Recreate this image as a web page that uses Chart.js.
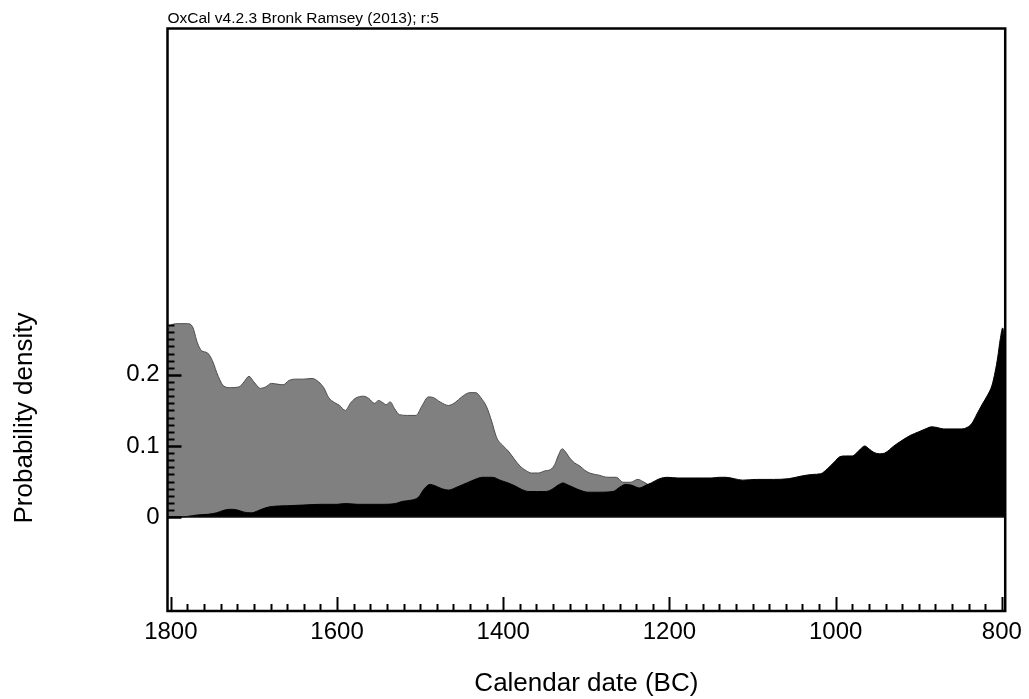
<!DOCTYPE html>
<html>
<head>
<meta charset="utf-8">
<title>Probability density – Calendar date (BC)</title>
<script src="https://cdn.jsdelivr.net/npm/chart.js@4/dist/chart.umd.min.js"></script>
<style>
  html, body { margin: 0; padding: 0; background: #ffffff; }
  #chart { display: block; }
</style>
</head>
<body>
<canvas id="chart" width="1029" height="699"></canvas>
<script>
// Calendar dates (BC) and probability densities of the grey distribution
const greyDates = [
  1804, 1800, 1790, 1780, 1774, 1768, 1763, 1756, 1750, 1743, 1736, 1728, 1718, 1712, 1706,
  1700, 1692, 1686, 1679, 1672, 1665, 1658, 1650, 1640, 1630, 1622, 1616, 1610, 1603, 1597,
  1590, 1584, 1578, 1568, 1562, 1555, 1550, 1545, 1541, 1536, 1531, 1525, 1515, 1505, 1498,
  1490, 1484, 1476, 1466, 1458, 1450, 1440, 1433, 1427, 1420, 1414, 1408, 1400, 1394, 1387,
  1380, 1372, 1366, 1358, 1350, 1343, 1338, 1334, 1329, 1324, 1320, 1314, 1308, 1302, 1296,
  1285, 1274, 1264, 1256, 1247, 1238, 1232, 1226, 1218
];
const greyDensity = [
  0.262, 0.270, 0.272, 0.272, 0.268, 0.245, 0.234, 0.231, 0.220, 0.198, 0.184, 0.182, 0.183, 0.190, 0.198,
  0.190, 0.181, 0.183, 0.188, 0.187, 0.186, 0.192, 0.194, 0.194, 0.195, 0.190, 0.182, 0.168, 0.161, 0.157,
  0.150, 0.160, 0.167, 0.170, 0.167, 0.160, 0.164, 0.161, 0.158, 0.162, 0.153, 0.144, 0.143, 0.143, 0.156,
  0.169, 0.168, 0.162, 0.157, 0.161, 0.169, 0.175, 0.175, 0.168, 0.155, 0.135, 0.112, 0.100, 0.093, 0.082,
  0.072, 0.065, 0.062, 0.062, 0.065, 0.067, 0.074, 0.086, 0.096, 0.090, 0.083, 0.076, 0.072, 0.066, 0.062,
  0.059, 0.056, 0.056, 0.049, 0.049, 0.053, 0.050, 0.046, 0.040
];

// Calendar dates (BC) and probability densities of the black distribution
const blackDates = [
  1804, 1790, 1780, 1768, 1755, 1745, 1735, 1727, 1720, 1712, 1703, 1695, 1686, 1678, 1660,
  1640, 1620, 1600, 1590, 1575, 1560, 1545, 1530, 1522, 1510, 1502, 1495, 1488, 1482, 1474,
  1466, 1458, 1450, 1442, 1434, 1425, 1413, 1404, 1394, 1386, 1378, 1369, 1360, 1349, 1340,
  1334, 1328, 1322, 1316, 1308, 1298, 1285, 1268, 1260, 1253, 1246, 1236, 1228, 1222, 1212,
  1203, 1190, 1175, 1160, 1149, 1140, 1132, 1122, 1112, 1095, 1075, 1057, 1048, 1040, 1028,
  1018, 1010, 1002, 995, 988, 980, 975, 970, 965, 960, 954, 947, 941, 930, 920,
  910, 900, 890, 885, 878, 870, 860, 848, 842, 836, 830, 824, 817, 812, 808,
  805, 802, 799, 797, 796
];
const blackDensity = [
  0.000, 0.000, 0.001, 0.003, 0.004, 0.006, 0.010, 0.011, 0.010, 0.007, 0.006, 0.009, 0.013, 0.015, 0.016,
  0.017, 0.018, 0.018, 0.019, 0.018, 0.018, 0.018, 0.019, 0.022, 0.024, 0.028, 0.040, 0.046, 0.044, 0.040,
  0.038, 0.041, 0.045, 0.049, 0.053, 0.056, 0.056, 0.052, 0.048, 0.044, 0.039, 0.036, 0.036, 0.036, 0.040,
  0.045, 0.048, 0.045, 0.042, 0.038, 0.035, 0.035, 0.036, 0.042, 0.046, 0.045, 0.041, 0.045, 0.048, 0.054,
  0.056, 0.055, 0.055, 0.055, 0.055, 0.056, 0.056, 0.054, 0.052, 0.053, 0.053, 0.054, 0.056, 0.058, 0.060,
  0.061, 0.068, 0.077, 0.085, 0.086, 0.086, 0.090, 0.096, 0.100, 0.096, 0.091, 0.089, 0.090, 0.100, 0.108,
  0.115, 0.120, 0.125, 0.127, 0.126, 0.124, 0.124, 0.124, 0.126, 0.132, 0.145, 0.158, 0.172, 0.185, 0.205,
  0.225, 0.250, 0.266, 0.252, 0.245
];

// Axis tick labels
const xTickValues = [1800, 1600, 1400, 1200, 1000, 800];
const yTickValues = [0, 0.1, 0.2];

// Text
const headerNote = 'OxCal v4.2.3 Bronk Ramsey (2013); r:5';
const xAxisTitle = 'Calendar date (BC)';
const yAxisTitle = 'Probability density';

const FONT = '"Liberation Sans", Arial, Helvetica, sans-serif';

function toPoints(dates, values) {
  return dates.map((d, i) => ({ x: d, y: values[i] }));
}

// Frame, inward tick marks, zero line and free-standing labels
const oxcalFrame = {
  id: 'oxcalFrame',
  afterDatasetsDraw(chart) {
    const { ctx, chartArea: a, scales: { y } } = chart;
    const y0 = y.getPixelForValue(0);
    ctx.save();
    ctx.strokeStyle = '#111';
    ctx.lineWidth = 1.5;
    ctx.beginPath();
    ctx.moveTo(a.left, y0);
    ctx.lineTo(a.right, y0);
    ctx.stroke();
    ctx.restore();
  },
  afterDraw(chart) {
    const { ctx, chartArea: a, scales: { x, y } } = chart;
    ctx.save();
    ctx.strokeStyle = '#000';
    ctx.lineCap = 'butt';

    // x ticks: major every 200 years, minor every 20 years, pointing inward
    ctx.lineWidth = 2;
    for (let yr = 800; yr <= 1800; yr += 20) {
      const px = Math.round(x.getPixelForValue(yr)) + 0.5;
      const len = (yr % 200 === 0) ? 14 : 7;
      ctx.beginPath();
      ctx.moveTo(px, a.bottom);
      ctx.lineTo(px, a.bottom - len);
      ctx.stroke();
    }

    // y ticks: major every 0.1, minor every 0.01 up to the data range
    for (let i = 0; i <= 27; i++) {
      const py = Math.round(y.getPixelForValue(i / 100)) + 0.5;
      const major = i % 10 === 0;
      ctx.lineWidth = major ? 2.5 : 2;
      ctx.beginPath();
      ctx.moveTo(a.left, py);
      ctx.lineTo(a.left + (major ? 14 : 7), py);
      ctx.stroke();
    }

    // plot frame
    ctx.lineWidth = 2.5;
    ctx.strokeRect(a.left, a.top, a.right - a.left, a.bottom - a.top);

    // header note above the frame
    ctx.fillStyle = '#000';
    ctx.font = '15.5px ' + FONT;
    ctx.textAlign = 'left';
    ctx.textBaseline = 'alphabetic';
    ctx.fillText(headerNote, a.left, a.top - 6);

    // vertical axis title
    ctx.save();
    ctx.translate(32, 418);
    ctx.rotate(-Math.PI / 2);
    ctx.font = '26px ' + FONT;
    ctx.textAlign = 'center';
    ctx.textBaseline = 'alphabetic';
    ctx.fillText(yAxisTitle, 0, 0);
    ctx.restore();

    ctx.restore();
  }
};

new Chart(document.getElementById('chart'), {
  type: 'line',
  data: {
    datasets: [
      {
        label: 'black',
        data: toPoints(blackDates, blackDensity),
        borderColor: '#000000',
        borderWidth: 1,
        backgroundColor: '#000000',
        fill: 'origin',
        pointRadius: 0,
        cubicInterpolationMode: 'monotone'
      },
      {
        label: 'grey',
        data: toPoints(greyDates, greyDensity),
        borderColor: '#4d4d4d',
        borderWidth: 1,
        backgroundColor: '#808080',
        fill: 'origin',
        pointRadius: 0,
        cubicInterpolationMode: 'monotone'
      }
    ]
  },
  options: {
    responsive: false,
    animation: false,
    devicePixelRatio: 1,
    layout: { padding: { left: 0, top: 28.5, right: 21.5, bottom: 0 } },
    plugins: {
      legend: { display: false },
      tooltip: { enabled: false },
      title: { display: false }
    },
    scales: {
      x: {
        type: 'linear',
        position: 'bottom',
        reverse: true,
        min: 796,
        max: 1804,
        grid: { display: false, drawTicks: false },
        border: { display: false },
        afterBuildTicks(scale) {
          scale.ticks = xTickValues.map(v => ({ value: v }));
        },
        afterFit(scale) { scale.height = 88; },
        ticks: {
          autoSkip: false,
          maxRotation: 0,
          padding: 7,
          color: '#000',
          font: { family: FONT, size: 24 },
          callback: v => String(v)
        },
        title: {
          display: true,
          text: xAxisTitle,
          color: '#000',
          font: { family: FONT, size: 26 },
          padding: { top: 0, bottom: 0 }
        }
      },
      y: {
        type: 'linear',
        position: 'left',
        min: -0.132,
        max: 0.687,
        grid: { display: false, drawTicks: false },
        border: { display: false },
        afterBuildTicks(scale) {
          scale.ticks = yTickValues.map(v => ({ value: v }));
        },
        afterFit(scale) { scale.width = 167.5; },
        ticks: {
          autoSkip: false,
          padding: 8,
          color: '#000',
          font: { family: FONT, size: 24 },
          callback: v => (v === 0 ? '0' : v.toFixed(1))
        }
      }
    }
  },
  plugins: [oxcalFrame]
});
</script>
</body>
</html>
